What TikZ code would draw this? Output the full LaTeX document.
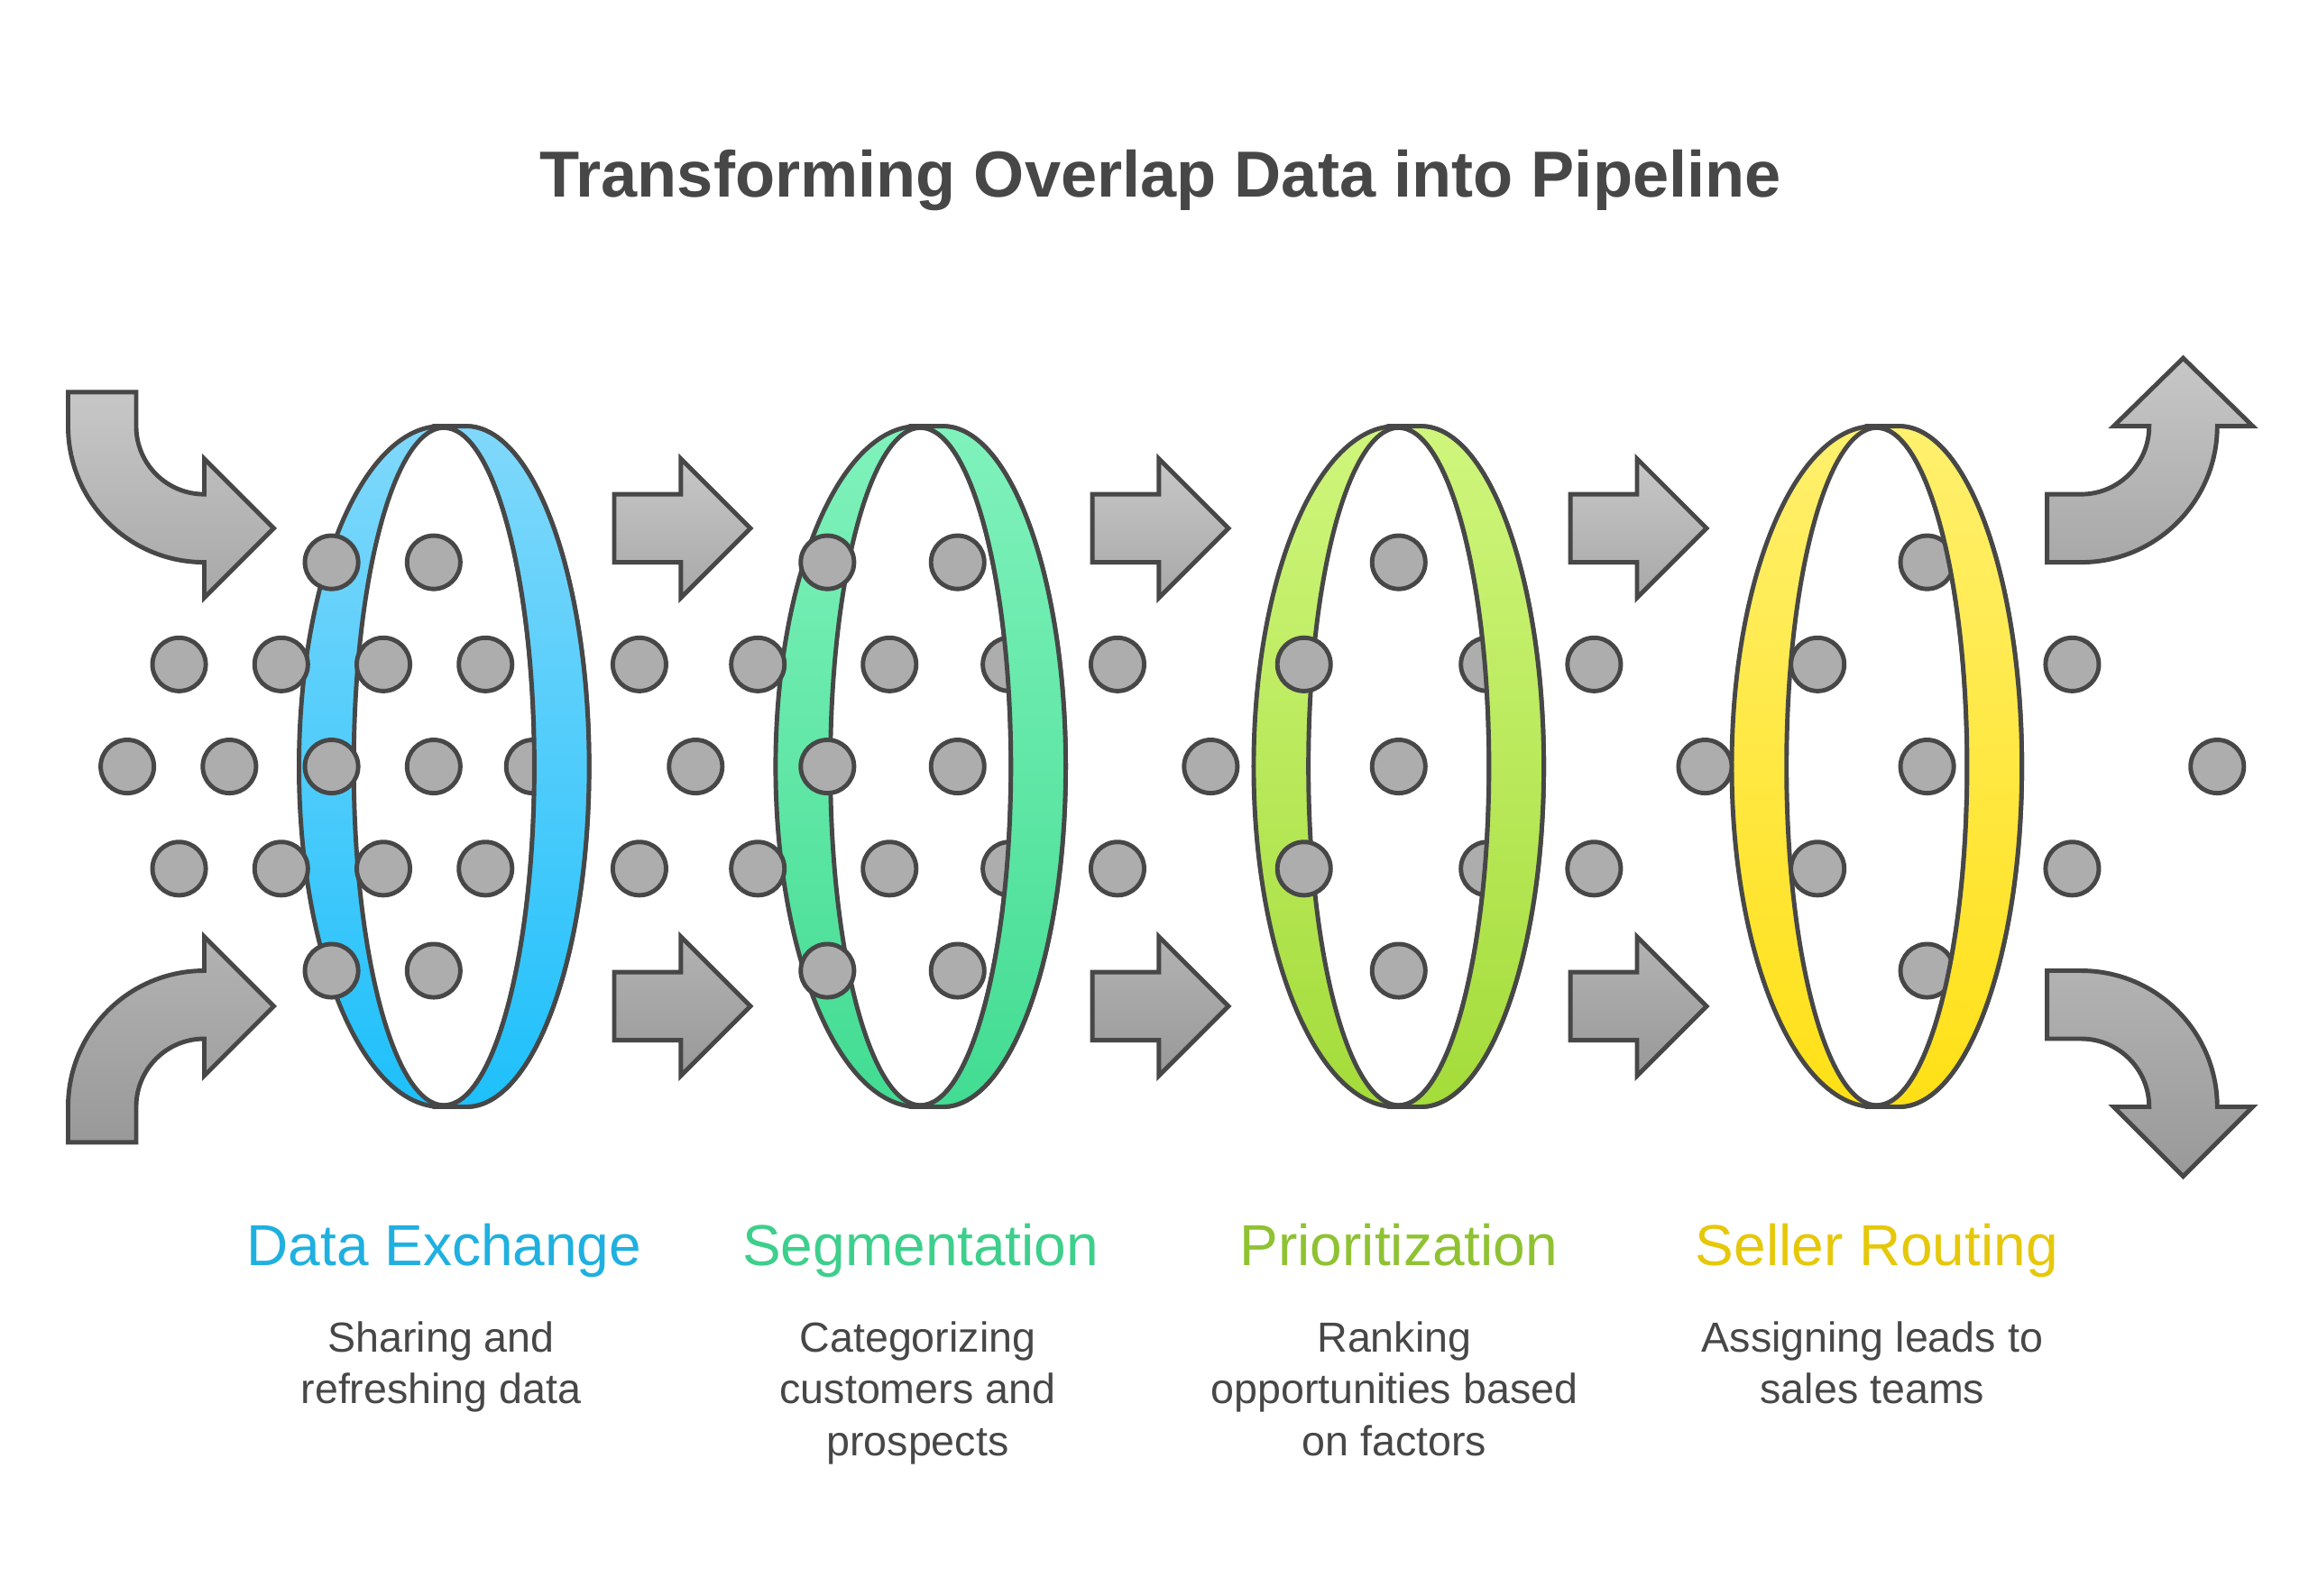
\documentclass[tikz,border=0pt]{standalone}
\usepackage{fontspec}
\setmainfont{Liberation Sans}
\begin{document}
\begin{tikzpicture}[x=0.5pt,y=-0.5pt,
  dk/.style={draw=black!72, line width=1.5pt},
  dot/.style={dk, fill=black!32},
  arr/.style={dk, top color=black!22, bottom color=black!34},
  arrb/.style={dk, top color=black!30, bottom color=black!40},
  lab/.style={font=\fontsize{19.5}{23}\selectfont, anchor=base},
  desc/.style={font=\fontsize{14.2}{17.5}\selectfont, align=center, anchor=north, text=black!72}]
\definecolor{b1t}{HTML}{80D8FB}\definecolor{b1b}{HTML}{1EC0FB}
\definecolor{b2t}{HTML}{80F2BC}\definecolor{b2b}{HTML}{42DC92}
\definecolor{b3t}{HTML}{CFF67C}\definecolor{b3b}{HTML}{A4DC3A}
\definecolor{b4t}{HTML}{FFF06E}\definecolor{b4b}{HTML}{FFE016}
\definecolor{t1}{HTML}{1FB0E0}\definecolor{t2}{HTML}{3DCF8C}
\definecolor{t3}{HTML}{8FC232}\definecolor{t4}{HTML}{E6C80A}
\path[use as bounding box, fill=white] (0,0) rectangle (1560,1078);
\node[font=\bfseries\fontsize{22}{26}\selectfont, text=black!72] (title) at (784,122) {Transforming Overlap Data into Pipeline};
% curved arrows
\path[arr] (46,265) -- (92,265) -- (92,288) arc[start angle=180,end angle=90,radius=46] -- (138,310) -- (185,357) -- (138,404) -- (138,380) arc[start angle=90,end angle=180,radius=92] -- cycle;
\path[arrb] (46,772) -- (92,772) -- (92,748) arc[start angle=180,end angle=270,radius=46] -- (138,727) -- (185,680) -- (138,633) -- (138,656) arc[start angle=270,end angle=180,radius=92] -- cycle;
\path[arr] (1383,334) -- (1406,334) arc[start angle=90,end angle=0,radius=46] -- (1428,288) -- (1475,242) -- (1522,288) -- (1498,288) arc[start angle=0,end angle=90,radius=92] -- (1383,380) -- cycle;
\path[arrb] (1383,702) -- (1406,702) arc[start angle=-90,end angle=0,radius=46] -- (1428,748) -- (1475,795) -- (1522,748) -- (1498,748) arc[start angle=0,end angle=-90,radius=92] -- (1383,656) -- cycle;
% straight arrows
\foreach \x in {415,738,1061}{
  \path[arr] (\x,334) -- (\x+45,334) -- (\x+45,310) -- (\x+92,357) -- (\x+45,404) -- (\x+45,380) -- (\x,380) -- cycle;
  \path[arrb] (\x,657) -- (\x+45,657) -- (\x+45,633) -- (\x+92,680) -- (\x+45,727) -- (\x+45,703) -- (\x,703) -- cycle;
}
% rings base
\foreach \cx/\ct/\cb in {300/b1t/b1b,622/b2t/b2b,945/b3t/b3b,1268/b4t/b4b}{
  \path[dk, top color=\ct, bottom color=\cb] (\cx-2,288) -- (\cx+15,288) arc[start angle=-90,end angle=90,x radius=83,y radius=230] -- (\cx-2,748) arc[start angle=90,end angle=270,x radius=96,y radius=230] -- cycle;
  \path[dk, fill=white] (\cx,518) ellipse[x radius=61,y radius=229];
}
% dots
\foreach \px/\py in {121/449,190/449,259/449,328/449,86/518,155/518,224/518,293/518,360/518,121/587,190/587,259/587,328/587,224/380,293/380,224/656,293/656,
432/449,512/449,470/518,432/587,512/587,
559/380,647/380,601/449,682/449,559/518,647/518,601/587,682/587,559/656,647/656,
755/449,818/518,755/587,
945/380,881/449,1005/449,945/518,881/587,1005/587,945/656,
1077/449,1152/518,1077/587,
1302/380,1228/449,1302/518,1228/587,1302/656,
1400/449,1498/518,1400/587}{
  \path[dot] (\px,\py) circle[radius=18];
}
% front bands
\foreach \cx/\ct/\cb in {300/b1t/b1b,622/b2t/b2b,945/b3t/b3b,1268/b4t/b4b}{
  \path[dk, top color=\ct, bottom color=\cb] (\cx-2,288) -- (\cx+15,288) arc[start angle=-90,end angle=90,x radius=83,y radius=230] -- (\cx-2,748) -- (\cx,747) arc[start angle=90,end angle=-90,x radius=61,y radius=229] -- cycle;
}
% labels
\node[lab, text=t1] (l1) at (300,855) {Data Exchange};
\node[lab, text=t2] (l2) at (622,855) {Segmentation};
\node[lab, text=t3] (l3) at (945,855) {Prioritization};
\node[lab, text=t4] (l4) at (1268,855) {Seller Routing};
\node[desc] (d1) at (298,886) {Sharing and\\refreshing data};
\node[desc] (d2) at (620,886) {Categorizing\\customers and\\prospects};
\node[desc] (d3) at (942,886) {Ranking\\opportunities based\\on factors};
\node[desc] (d4) at (1265,886) {Assigning leads to\\sales teams};
\end{tikzpicture}
\end{document}
